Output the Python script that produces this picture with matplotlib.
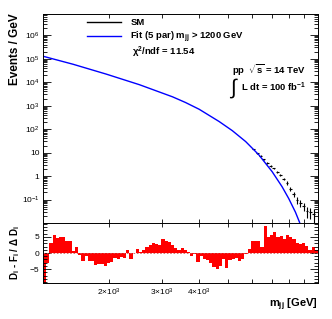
import numpy as np
import matplotlib
matplotlib.use("Agg")
import matplotlib.pyplot as plt
from matplotlib.lines import Line2D
from matplotlib.ticker import FixedLocator, FixedFormatter, FuncFormatter, LogLocator, MultipleLocator, NullFormatter

plt.rcParams["font.family"] = "Liberation Sans"
plt.rcParams["mathtext.fontset"] = "custom"
plt.rcParams["mathtext.rm"] = "Liberation Sans"
plt.rcParams["mathtext.bf"] = "Liberation Sans:bold"
plt.rcParams["mathtext.it"] = "Liberation Sans:italic"
plt.rcParams["mathtext.sf"] = "Liberation Sans"

# fit curve (mjj [GeV], events / GeV)
fit_mass = [1200, 1512, 1954, 2523, 3258, 3600, 4000, 4664, 5164, 5724, 6339, 7021, 7580, 7980, 8403, 8661, 8816]
fit_events = [1.27e5, 5.8e4, 2.2e4, 7.8e3, 2.37e3, 1.36e3, 700, 211, 86, 29.5, 7.98, 1.54, 0.352, 0.11, 0.029, 0.0112, 0.006]

# SM pseudo-data visible above the fit at high mass
sm_mass = [6090, 6257, 6424, 6589, 6758, 6934, 7112, 7295, 7488, 7680, 7877, 8086, 8294, 8507, 8730, 8954, 9183, 9425, 9661]
sm_events = [14.0, 9.3, 7.2, 5.2, 3.6, 2.7, 2.1, 1.5, 1.12, 0.76, 0.51, 0.28, 0.17, 0.095, 0.071, 0.052, 0.032, 0.030, 0.024]
sm_err = [0.6, 0.4, 0.35, 0.3, 0.25, 0.2, 0.17, 0.14, 0.12, 0.1, 0.08, 0.06, 0.045, 0.03, 0.025, 0.02, 0.016, 0.015, 0.014]

# significance per bin (D - F) / dD
resid = [-9.5, -3.0, 3.0, 5.5, 4.6, 5.0, 5.0, 3.8, 3.8, 0.6,
         1.8, -0.6, -2.4, -0.8, -2.4, -2.4, -3.8, -3.4, -3.4, -4.0,
         -3.2, -2.8, -1.4, -2.0, -1.2, -1.6, 0.8, -1.8, 0.0, 1.2,
         0.2, 1.0, 1.8, 2.4, 3.0, 2.8, 2.6, 4.2, 3.8, 3.4,
         2.6, 1.4, 1.0, 1.4, 1.0, 0.4, -0.8, -0.2, -2.8, -1.0,
         -2.0, -2.2, -3.0, -4.2, -5.0, -4.0, -1.8, -4.8, -2.2, -2.0,
         -1.4, -2.4, -1.8, -0.2, 1.2, 3.6, 3.6, 3.6, 1.8, 8.5,
         5.0, 5.6, 6.4, 5.0, 5.4, 4.2, 5.6, 5.0, 4.2, 3.2,
         2.8, 3.0, 2.2, 1.0, 2.0, 1.0]
edges = np.logspace(np.log10(1200), 4, len(resid) + 1)

xticks = [2000, 3000, 4000, 5000, 6000, 7000, 8000, 9000]
xticklabels = [r"$2{\times}10^{3}$", r"$3{\times}10^{3}$", r"$4{\times}10^{3}$", "", "", "", "", ""]

fig = plt.figure(figsize=(3.32, 3.19), dpi=100)
ax = fig.add_axes([43 / 332, 1 - 223 / 319, 275 / 332, 209 / 319])
ax2 = fig.add_axes([43 / 332, 1 - 283 / 319, 275 / 332, 60 / 319], sharex=ax)

ax.errorbar(sm_mass, sm_events, yerr=sm_err, xerr=np.array(sm_mass) * 0.011,
            fmt="none", ecolor="black", elinewidth=0.8, capsize=0)
ax.plot(fit_mass, fit_events, color="#0000ff", lw=1.0)

ax.set_xscale("log")
ax.set_yscale("log")
ax.set_xlim(1200, 10000)
ax.set_ylim(0.01, 8e6)


def ylab(v, pos):
    if v == 1:
        return "1"
    if v == 10:
        return "10"
    if v < 0.05:
        return ""
    return r"$10^{%d}$" % round(np.log10(v))


ax.yaxis.set_major_locator(LogLocator(base=10, numticks=20))
ax.yaxis.set_minor_locator(LogLocator(base=10, subs=np.arange(2, 10), numticks=20))
ax.yaxis.set_major_formatter(FuncFormatter(ylab))
ax.yaxis.set_minor_formatter(NullFormatter())
ax.xaxis.set_major_locator(FixedLocator(xticks))
ax.xaxis.set_minor_locator(FixedLocator([]))
ax.tick_params(axis="x", labelbottom=False)

for a in (ax, ax2):
    a.tick_params(which="both", direction="in", top=True, right=True, labelsize=6, pad=2.5, width=0.6)
    a.tick_params(axis="y", which="major", length=6)
    a.tick_params(axis="y", which="minor", length=3)
    a.tick_params(axis="x", which="major", length=3)
    for s in a.spines.values():
        s.set_linewidth(0.7)

ax2.stairs(resid, edges, baseline=0, fill=True, color="#ff0000", lw=0)
ax2.axhline(0, color="#cc5555", lw=0.6, ls=(0, (2, 2)))
ax2.set_ylim(-9.3, 9.3)
ax2.yaxis.set_major_locator(FixedLocator([-5, 0, 5]))
ax2.yaxis.set_major_formatter(FixedFormatter(["\u22125", "0", "5"]))
ax2.yaxis.set_minor_locator(MultipleLocator(1))
ax2.xaxis.set_major_formatter(FixedFormatter(xticklabels))
ax2.tick_params(axis="x", labelbottom=True, pad=3)

handles = [Line2D([], [], color="black", lw=1.0),
           Line2D([], [], color="#0000ff", lw=1.0)]
labels = ["SM", r"Fit (5 par) m$_{\mathbf{jj}}$ > 1200 GeV"]
ax.legend(handles, labels, loc="upper left", bbox_to_anchor=(0.16, 0.98), frameon=False,
          prop={"weight": "bold", "size": 6.8}, handlelength=3.6, handletextpad=1.0,
          labelspacing=0.3, borderpad=0, borderaxespad=0)
ax.text(0.324, 0.815, r"$\mathbf{\chi}^{\mathbf{2}}$/ndf = 11.54", transform=ax.transAxes,
        ha="left", va="center", fontsize=6.8, fontweight="bold")

ax.text(0.958, 0.73, r"pp  $\sqrt{\mathbf{s}}$ = 14 TeV", transform=ax.transAxes,
        ha="right", va="center", fontsize=6.8, fontweight="bold")
ax.text(0.695, 0.645, r"$\int$", transform=ax.transAxes, ha="center", va="center", fontsize=15)
ax.text(0.958, 0.65, r"L dt = 100 fb$^{\mathbf{-1}}$", transform=ax.transAxes,
        ha="right", va="center", fontsize=6.8, fontweight="bold")

fig.text(15 / 332, 1 - 13 / 319, "Events / GeV", rotation=90, ha="center", va="top",
         fontsize=8.5, fontweight="bold")
fig.text(15 / 332, 1 - 225 / 319, r"D$_{\mathbf{i}}$ - F$_{\mathbf{i}}$ / $\mathbf{\Delta}$ D$_{\mathbf{i}}$",
         rotation=90, ha="center", va="top", fontsize=7, fontweight="bold")
fig.text(318 / 332, 1 - 305 / 319, r"m$_{\mathbf{jj}}$ [GeV]", ha="right", va="center",
         fontsize=8, fontweight="bold")

fig.savefig("out.png", dpi=100)
